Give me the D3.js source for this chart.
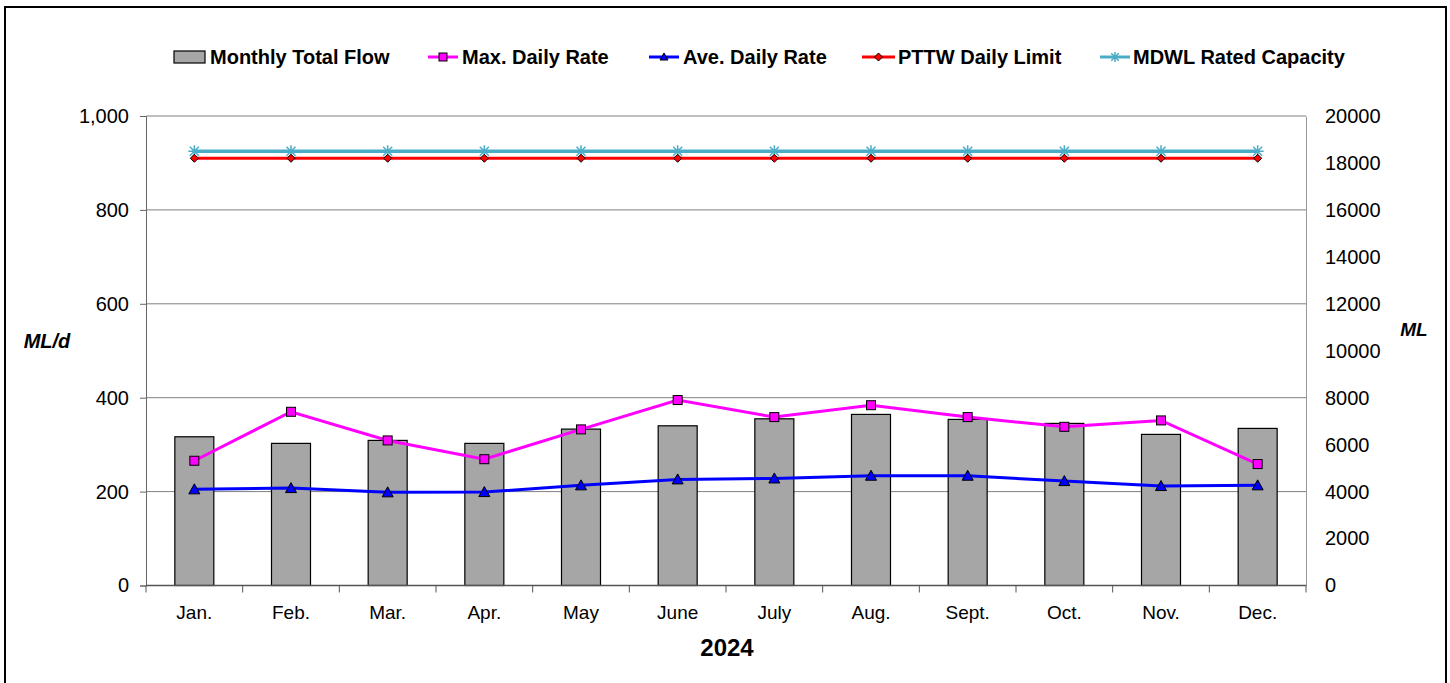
<!DOCTYPE html>
<html><head><meta charset="utf-8">
<script src="https://cdn.jsdelivr.net/npm/d3@7"></script>
<style>body{margin:0;background:#fff;}svg{display:block;font-family:"Liberation Sans",Arial,sans-serif;}</style>
</head><body><svg id="c" width="1450" height="683"></svg>
<script>
const months = ["Jan.","Feb.","Mar.","Apr.","May","June","July","Aug.","Sept.","Oct.","Nov.","Dec."];
const monthlyTotal = [6335,6054,6181,6054,6662,6803,7101,7288,7075,6905,6437,6692];
const maxDaily = [265.7,370,309,269,332.5,395,358.7,384,358.7,338,351.6,258.6];
const aveDaily = [204.8,207.5,198.4,199,213.3,226,228,233.8,233.8,222.4,211.8,213.3];
const pttwLimit = [910,910,910,910,910,910,910,910,910,910,910,910];
const mdwlCapacity = [925,925,925,925,925,925,925,925,925,925,925,925];
const leftTicks = [0,200,400,600,800,1000];
const rightTicks = [0,2000,4000,6000,8000,10000,12000,14000,16000,18000,20000];

const svg = d3.select("#c");
const L=146, R=1306, T=116, B=585.5;
const x = d3.scaleBand().domain(months).range([L,R]);
const yL = d3.scaleLinear().domain([0,1000]).range([B,T]);
const yR = d3.scaleLinear().domain([0,20000]).range([B,T]);

// outer frame
svg.append("rect").attr("x",5).attr("y",7).attr("width",1441).attr("height",690)
  .attr("fill","none").attr("stroke","#000").attr("stroke-width",2);

// gridlines
svg.append("g").selectAll("line").data(leftTicks.filter(d=>d>0)).join("line")
  .attr("x1",L).attr("x2",R).attr("y1",d=>yL(d)).attr("y2",d=>yL(d))
  .attr("stroke","#808080").attr("stroke-width",1);

// left axis
const gl = svg.append("g").attr("transform",`translate(${L},0)`)
  .call(d3.axisLeft(yL).tickValues(leftTicks).tickSize(6).tickPadding(11).tickFormat(d3.format(",")));
gl.select(".domain").attr("stroke","#666");
gl.selectAll(".tick line").attr("stroke","#666");
gl.selectAll("text").attr("font-size",20).attr("fill","#000").attr("font-family","Liberation Sans, Arial");

// right axis
const gr = svg.append("g").attr("transform",`translate(${R},0)`)
  .call(d3.axisRight(yR).tickValues(rightTicks).tickSize(0).tickPadding(19).tickFormat(d3.format("d")));
gr.select(".domain").attr("stroke","#999");
gr.selectAll("text").attr("font-size",20).attr("fill","#000").attr("font-family","Liberation Sans, Arial");

// bars
svg.append("g").selectAll("rect").data(months).join("rect")
  .attr("x",(d)=>x(d)+x.bandwidth()/2-19.5).attr("width",39)
  .attr("y",(d,i)=>yR(monthlyTotal[i])).attr("height",(d,i)=>B-yR(monthlyTotal[i]))
  .attr("fill","#a6a6a6").attr("stroke","#000").attr("stroke-width",1.2);

// x axis
const gx = svg.append("g").attr("transform",`translate(0,${B})`);
gx.append("line").attr("x1",L).attr("x2",R).attr("stroke","#555").attr("stroke-width",1.5);
const bounds = months.map(m=>x(m)).concat([R]);
gx.selectAll("line.t").data(bounds).join("line").attr("class","t")
  .attr("x1",d=>d).attr("x2",d=>d).attr("y1",0).attr("y2",7).attr("stroke","#555");
gx.selectAll("text").data(months).join("text")
  .attr("x",d=>x(d)+x.bandwidth()/2).attr("y",33).attr("text-anchor","middle")
  .attr("font-size",19).text(d=>d);

const cx = (d)=>x(d)+x.bandwidth()/2;
const line = (arr,scale)=>d3.line().x((d,i)=>cx(months[i])).y(d=>scale(d))(arr);

// lines
svg.append("path").attr("d",line(mdwlCapacity,yL)).attr("fill","none").attr("stroke","#4bacc6").attr("stroke-width",3.5);
svg.append("path").attr("d",line(pttwLimit,yL)).attr("fill","none").attr("stroke","#ff0000").attr("stroke-width",3);
svg.append("path").attr("d",line(maxDaily,yL)).attr("fill","none").attr("stroke","#ff00ff").attr("stroke-width",3);
svg.append("path").attr("d",line(aveDaily,yL)).attr("fill","none").attr("stroke","#0000ff").attr("stroke-width",3);

function asterisk(g,s,color){
  g.append("path").attr("d",`M${-s},0H${s}M0,${-s}V${s}M${-s*0.75},${-s*0.75}L${s*0.75},${s*0.75}M${-s*0.75},${s*0.75}L${s*0.75},${-s*0.75}`)
   .attr("stroke",color).attr("stroke-width",1.5).attr("fill","none");
}
// markers
mdwlCapacity.forEach((v,i)=>{ const g=svg.append("g").attr("transform",`translate(${cx(months[i])},${yL(v)})`); asterisk(g,6,"#4bacc6"); });
pttwLimit.forEach((v,i)=>{ svg.append("path").attr("transform",`translate(${cx(months[i])},${yL(v)})`)
  .attr("d","M0,-4L4,0L0,4L-4,0Z").attr("fill","#ff0000").attr("stroke","#000").attr("stroke-width",1); });
maxDaily.forEach((v,i)=>{ svg.append("rect").attr("x",cx(months[i])-4.5).attr("y",yL(v)-4.5).attr("width",9).attr("height",9)
  .attr("fill","#ff00ff").attr("stroke","#000").attr("stroke-width",1); });
aveDaily.forEach((v,i)=>{ svg.append("path").attr("transform",`translate(${cx(months[i])},${yL(v)})`)
  .attr("d","M0,-5.5L5.5,4.5L-5.5,4.5Z").attr("fill","#0000ff").attr("stroke","#000").attr("stroke-width",1); });

// axis titles
svg.append("text").attr("x",47).attr("y",348).attr("text-anchor","middle").attr("font-size",20)
  .attr("font-weight","bold").attr("font-style","italic").text("ML/d");
svg.append("text").attr("x",1414).attr("y",336).attr("text-anchor","middle").attr("font-size",19)
  .attr("font-weight","bold").attr("font-style","italic").text("ML");
svg.append("text").attr("x",727).attr("y",656).attr("text-anchor","middle").attr("font-size",24)
  .attr("font-weight","bold").text("2024");

// legend
const lg = svg.append("g");
const ly = 57;
lg.append("rect").attr("x",174).attr("y",ly-6).attr("width",31).attr("height",12).attr("fill","#a6a6a6").attr("stroke","#000").attr("stroke-width",1.2);
const legendItems = [
  {label:"Monthly Total Flow", tx:210},
  {label:"Max. Daily Rate", tx:462, x1:428, x2:458, color:"#ff00ff", m:"sq"},
  {label:"Ave. Daily Rate", tx:683, x1:649, x2:679, color:"#0000ff", m:"tri"},
  {label:"PTTW Daily Limit", tx:898, x1:862, x2:895, color:"#ff0000", m:"dia"},
  {label:"MDWL Rated Capacity", tx:1133, x1:1100, x2:1130, color:"#4bacc6", m:"ast"}
];
legendItems.forEach(it=>{
  if(it.x1){
    lg.append("line").attr("x1",it.x1).attr("x2",it.x2).attr("y1",ly).attr("y2",ly).attr("stroke",it.color).attr("stroke-width",3);
    const mx=(it.x1+it.x2)/2;
    if(it.m==="sq") lg.append("rect").attr("x",mx-4).attr("y",ly-4).attr("width",8).attr("height",8).attr("fill",it.color).attr("stroke","#000");
    if(it.m==="tri") lg.append("path").attr("transform",`translate(${mx},${ly})`).attr("d","M0,-4L4,3L-4,3Z").attr("fill",it.color).attr("stroke","#000");
    if(it.m==="dia") lg.append("path").attr("transform",`translate(${mx},${ly})`).attr("d","M0,-4L4,0L0,4L-4,0Z").attr("fill",it.color).attr("stroke","#000");
    if(it.m==="ast"){ const g=lg.append("g").attr("transform",`translate(${mx},${ly})`); asterisk(g,5,it.color); }
  }
  lg.append("text").attr("x",it.tx).attr("y",ly+7).attr("font-size",20).attr("font-weight","bold").text(it.label);
});
</script></body></html>
